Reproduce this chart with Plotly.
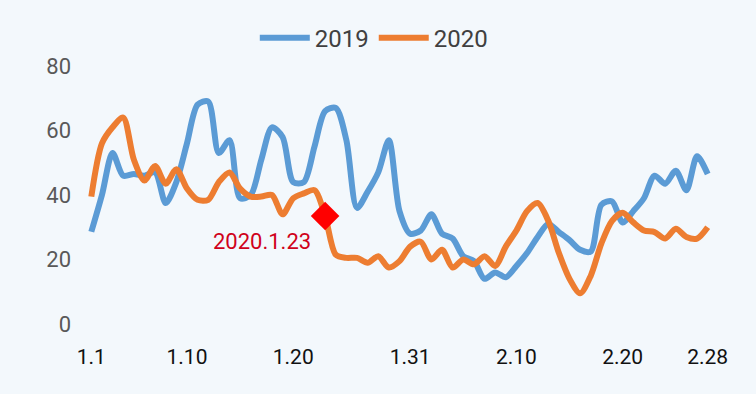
import plotly.graph_objects as go

dates = [f"1.{d}" for d in range(1, 32)] + [f"2.{d}" for d in range(1, 29)]

v2019 = [28.6, 40, 53, 46, 46.5, 46, 47, 37.5, 44, 56,
         68, 69, 53, 57, 39, 40, 51, 61, 58, 44,
         44, 55, 66, 67, 57, 36, 41, 47, 57, 35,
         28, 29, 34, 28, 26.5, 21, 19.5, 14, 16, 14.5,
         18, 22, 27, 31, 28.5, 26, 23, 22.5, 37, 38,
         31.5, 35, 39, 46, 43.5, 47.5, 41.5, 52, 46.5]

v2020 = [39.5, 56, 61, 64, 51, 44.5, 49, 43.5, 48, 42,
         38.5, 38.5, 44, 47, 42, 39.5, 39.5, 40, 34, 39,
         40.5, 41.5, 33.5, 21.5, 20.5, 20.5, 19, 21, 17.5, 19.5,
         24, 25.5, 20, 23, 17.5, 20, 18.5, 21, 18, 24,
         29, 35, 37.5, 32, 22, 14, 9.5, 15, 25, 32,
         34.5, 31.5, 29, 28.5, 26.5, 29.5, 27, 26.5, 30]

tick_labels = ["1.1", "1.10", "1.20", "1.31", "2.10", "2.20", "2.28"]
y_ticks = [0, 20, 40, 60, 80]
event_date = "1.23"
event_label = "2020.1.23"
event_idx = dates.index(event_date)
event_value = v2020[event_idx]

fig = go.Figure()
fig.add_trace(go.Scatter(x=dates, y=v2019, name="2019", mode="lines",
                         line=dict(color="#5B9BD5", width=6, shape="spline", smoothing=0.8)))
fig.add_trace(go.Scatter(x=dates, y=v2020, name="2020", mode="lines",
                         line=dict(color="#ED7D31", width=6, shape="spline", smoothing=0.8)))
fig.add_trace(go.Scatter(x=[event_date], y=[event_value], mode="markers", showlegend=False,
                         marker=dict(symbol="diamond", size=22, color="#FF0000")))

fig.add_annotation(x=event_idx, y=25.5, text=event_label, showarrow=False,
                   xanchor="right", yanchor="middle", xshift=-12,
                   font=dict(family="Roboto, Liberation Sans", size=22, color="#D0021B"))

fig.update_layout(
    width=756, height=394,
    margin=dict(l=86, r=43, t=66, b=70),
    paper_bgcolor="#F3F8FC", plot_bgcolor="#F3F8FC",
    showlegend=True,
    legend=dict(orientation="h", x=0.459, xanchor="center", y=1.108, yanchor="middle",
                font=dict(family="Roboto, Liberation Sans", size=24, color="#404040"),
                bgcolor="rgba(0,0,0,0)", itemwidth=50, tracegroupgap=0),
    xaxis=dict(type="category", range=[-0.5, 58.5], tickmode="array",
               tickvals=tick_labels, ticktext=tick_labels,
               showgrid=False, zeroline=False, showline=False, ticks="",
               ticklabelstandoff=18,
               tickfont=dict(family="Liberation Sans Narrow, Roboto", size=21, color="#111111")),
    yaxis=dict(range=[0, 80], tickvals=y_ticks, showgrid=False, zeroline=False,
               showline=False, ticks="", ticklabelstandoff=14,
               tickfont=dict(family="Roboto, Liberation Sans", size=22, color="#595959")),
)

fig.write_html("out.html", config={"displayModeBar": False},
               post_script="document.body.style.margin='0';document.body.style.background='#F3F8FC';")
